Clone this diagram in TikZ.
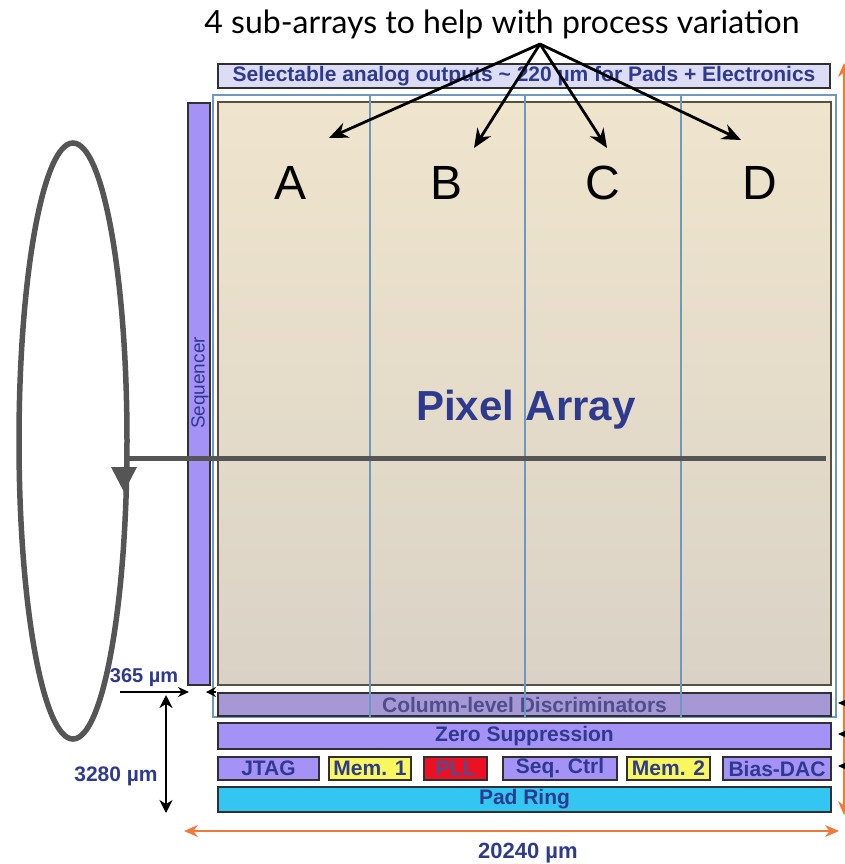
\documentclass[tikz,border=0pt]{standalone}
\usepackage{fontspec}
\setmainfont{Liberation Sans}
\newfontfamily\titlefont{Lato}
\usetikzlibrary{arrows.meta,shapes.geometric}
\definecolor{navy}{HTML}{2E3A8E}
\definecolor{dimnavy}{HTML}{4E4E8E}
\definecolor{bordc}{HTML}{303030}
\definecolor{lav}{HTML}{A492F6}
\definecolor{discc}{HTML}{A698D4}
\definecolor{topfill}{HTML}{DCDCF4}
\definecolor{yel}{HTML}{F8F85E}
\definecolor{redc}{HTML}{EC1024}
\definecolor{cyanc}{HTML}{34C6F2}
\definecolor{framec}{HTML}{6E98C0}
\definecolor{pixtop}{HTML}{EFE5CD}
\definecolor{pixbot}{HTML}{DAD2C6}
\definecolor{pixbord}{HTML}{5A5040}
\definecolor{orangec}{HTML}{F07A3A}
\definecolor{loopc}{HTML}{555555}
\begin{document}
\begin{tikzpicture}[x=1pt,y=-1pt,
  blk/.style={draw=bordc, line width=1.8pt, inner sep=0pt, text=navy,
    font=\bfseries\fontsize{21}{21}\selectfont},
  colline/.style={draw=framec, line width=1.7pt},
  letter/.style={font=\fontsize{48}{48}\selectfont, text=black},
  dimlbl/.style={font=\bfseries\fontsize{20}{20}\selectfont, text=navy},
  callout/.style={draw=black, line width=2.8pt, -{Stealth[length=19pt,width=16pt]}},
  orangearrow/.style={draw=orangec, line width=1.8pt, {Stealth[length=14pt,width=12pt]}-{Stealth[length=14pt,width=12pt]}},
  loopline/.style={draw=loopc, line width=5pt},
  smallarrow/.style={draw=black, line width=1.2pt, -{Stealth[length=10pt,width=9pt]}}
]
\useasboundingbox (0,0) rectangle (845,864);

% title
\node[font=\titlefont\fontsize{32}{34}\selectfont] (title) at (502,24) {4 sub-arrays to help with process variation};

% top box
\node[blk, fill=topfill, minimum width=612, minimum height=24] (outbox) at (524,76)
  {Selectable analog outputs \char"007E{} 220 µm for Pads + Electronics};

% frame
\node[draw=framec, line width=1.8pt, minimum width=623, minimum height=622, inner sep=0pt] (frame) at (524.5,406) {};

% pixel array
\node[draw=pixbord, line width=2.2pt, top color=pixtop, bottom color=pixbot,
  minimum width=613, minimum height=583, inner sep=0pt] (pix) at (524.5,393.5) {};
\node[font=\bfseries\fontsize{42}{42}\selectfont, text=navy] (pixlbl) at (526,410) {Pixel Array};

% sequencer
\node[blk, fill=lav, minimum width=22, minimum height=582] (seqr) at (199,394) {};
\node[rotate=90, font=\fontsize{19}{19}\selectfont, text=navy] (seqlbl) at (200,383) {Sequencer};

% discriminators
\node[blk, fill=discc, text=dimnavy, minimum width=613, minimum height=23] (disc) at (524.5,704.5) {Column-level Discriminators};

% column lines
\coordinate (c1t) at (370,95); \coordinate (c1b) at (370,717);
\coordinate (c2t) at (525,95); \coordinate (c2b) at (525,717);
\coordinate (c3t) at (681,95); \coordinate (c3b) at (681,717);
\draw[colline] (c1t) -- (c1b);
\draw[colline] (c2t) -- (c2b);
\draw[colline] (c3t) -- (c3b);

% letters
\node[letter] (A) at (291,183) {A};
\node[letter] (B) at (447,183) {B};
\node[letter] (C) at (603,183) {C};
\node[letter] (D) at (760,183) {D};

% callout arrows
\coordinate (hub) at (540,44);
\coordinate (tA) at (329,138);
\coordinate (tB) at (474,148);
\coordinate (tC) at (607,148);
\coordinate (tD) at (741,140);
\draw[callout] (hub) -- (tA);
\draw[callout] (hub) -- (tB);
\draw[callout] (hub) -- (tC);
\draw[callout] (hub) -- (tD);

% lower blocks
\node[blk, fill=lav, minimum width=613, minimum height=26] (zero) at (524.5,736) {Zero Suppression};
\node[blk, fill=lav, minimum width=101, minimum height=23] (jtag) at (268.5,768.5) {JTAG};
\node[blk, fill=yel, minimum width=82, minimum height=23] (mem1) at (370,768.5) {Mem. 1};
\node[blk, fill=redc, text=dimnavy, minimum width=63, minimum height=23] (pll) at (455.5,768.5) {PLL};
\node[blk, fill=lav, minimum width=114, minimum height=23] (seqc) at (560,768.5) {Seq. Ctrl};
\node[blk, fill=yel, minimum width=83, minimum height=23] (mem2) at (668.5,768.5) {Mem. 2};
\node[blk, fill=lav, minimum width=108, minimum height=23] (bias) at (777,768.5) {Bias-DAC};
\node[blk, fill=cyanc, minimum width=613, minimum height=25] (pad) at (524.5,799.5) {Pad Ring};

% loop ellipse and line
\node[draw=loopc, line width=5.5pt, ellipse, minimum width=108, minimum height=596, inner sep=0pt] (loop) at (73,441) {};
\coordinate (lineL) at (125,458);
\coordinate (lineR) at (826,458);
\draw[loopline] (lineL) -- (lineR);
\coordinate (tri) at (124,478);
\fill[loopc] ([shift={(-13,-11)}]tri) -- ([shift={(13,-11)}]tri) -- ([shift={(0,14)}]tri) -- cycle;

% 365 um dimension
\node[dimlbl] (l365) at (144,678) {365 µm};
\coordinate (d1) at (120,692);
\coordinate (d2) at (189,692);
\coordinate (d3) at (216,692);
\coordinate (d4) at (206,692);
\draw[draw=black, line width=1.5pt, -{Stealth[length=11pt,width=10pt]}] (d1) -- (d2);
\draw[draw=black, line width=1.5pt, -{Stealth[length=10pt,width=10pt]}] (d3) -- (d4);

% 3280 um dimension
\coordinate (v1) at (166,695);
\coordinate (v2) at (166,813);
\draw[draw=black, line width=2.5pt, {Stealth[length=13pt,width=13pt]}-{Stealth[length=13pt,width=13pt]}] (v1) -- (v2);
\node[dimlbl, font=\bfseries\fontsize{21}{21}\selectfont] (l3280) at (116,776) {3280 µm};

% 20240 um
\coordinate (h1) at (184,831);
\coordinate (h2) at (839,831);
\draw[orangearrow] (h1) -- (h2);
\node[dimlbl, font=\bfseries\fontsize{22}{22}\selectfont] (l20240) at (528,853) {20240 µm};

% right orange vertical
\coordinate (r1) at (844,63);
\coordinate (r2) at (844,815);
\draw[orangearrow, line width=1.2pt] (r1) -- (r2);

% right small arrows
\coordinate (s1a) at (852,703); \coordinate (s1b) at (838,703);
\coordinate (s2a) at (852,734); \coordinate (s2b) at (838,734);
\coordinate (s3a) at (852,766); \coordinate (s3b) at (838,766);
\draw[smallarrow] (s1a) -- (s1b);
\draw[smallarrow] (s2a) -- (s2b);
\draw[smallarrow] (s3a) -- (s3b);
\end{tikzpicture}
\end{document}
